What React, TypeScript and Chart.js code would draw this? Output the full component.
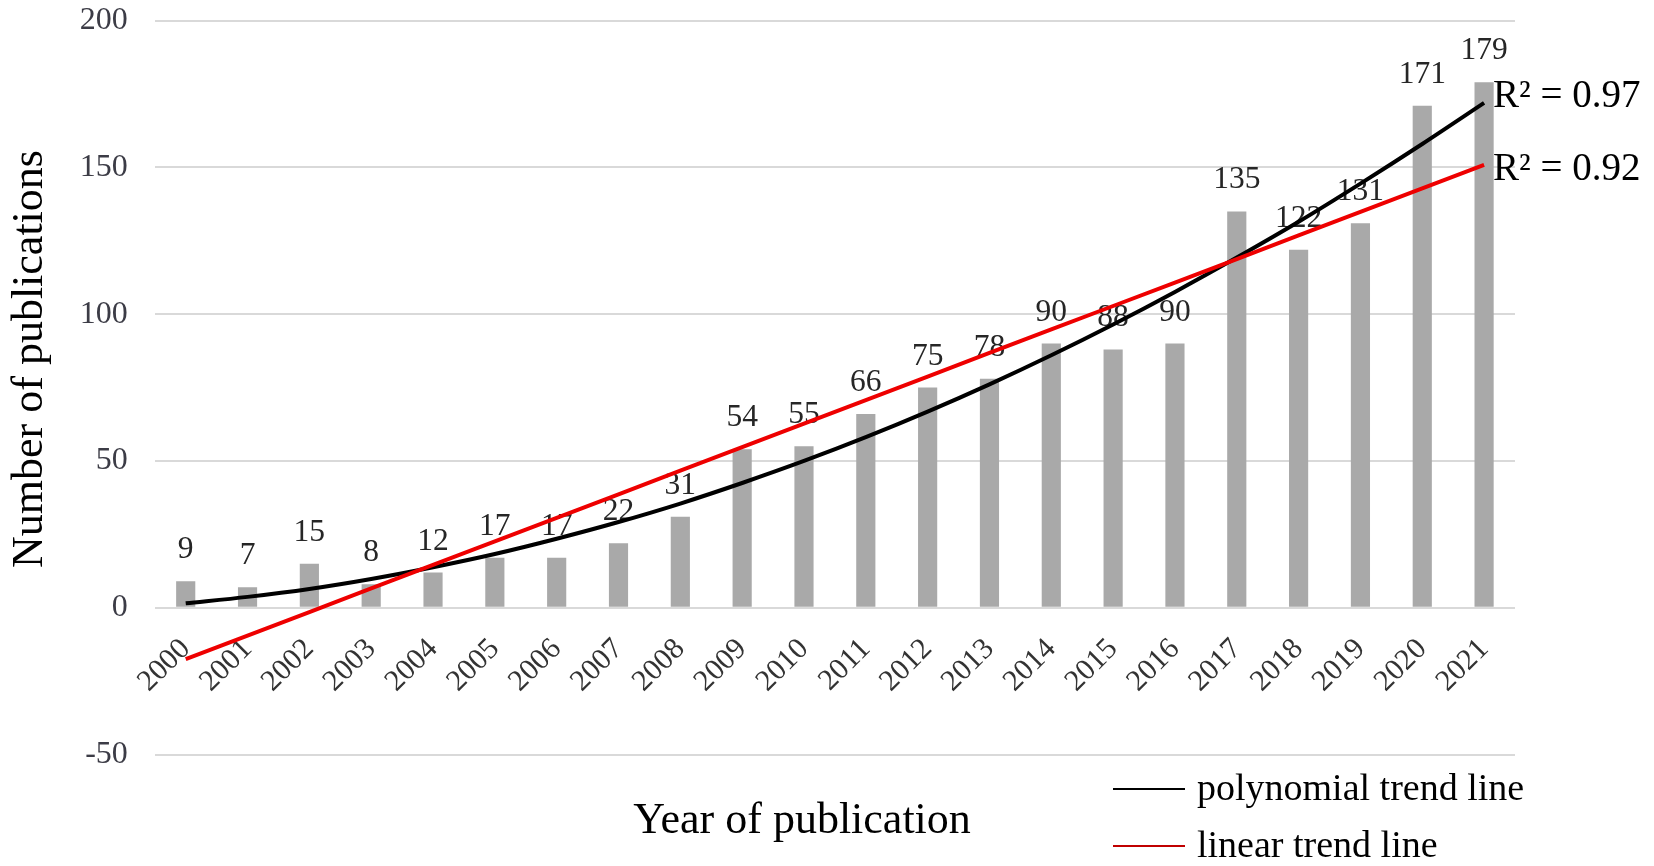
import { useEffect, useRef } from 'react';
import { Chart, registerables, Plugin } from 'chart.js';

Chart.register(...registerables);

// values
const years = [
  '2000', '2001', '2002', '2003', '2004', '2005', '2006', '2007', '2008', '2009', '2010',
  '2011', '2012', '2013', '2014', '2015', '2016', '2017', '2018', '2019', '2020', '2021',
];
const publications = [9, 7, 15, 8, 12, 17, 17, 22, 31, 54, 55, 66, 75, 78, 90, 88, 90, 135, 122, 131, 171, 179];
const polynomialTrend = [
  1.5, 3.7, 6.4, 9.8, 13.8, 18.3, 23.5, 29.2, 35.5, 42.5, 50,
  58.1, 66.8, 76.1, 86, 96.5, 107.6, 119.3, 131.5, 144.5, 158, 172,
];
const linearTrend = [
  -17.5, -9.5, -1.5, 6.6, 14.6, 22.6, 30.6, 38.6, 46.7, 54.7, 62.7,
  70.7, 78.7, 86.8, 94.8, 102.8, 110.8, 118.8, 126.9, 134.9, 142.9, 150.9,
];
const trendLabels = ['polynomial trend line', 'linear trend line'];
const rSquared = ['R² = 0.97', 'R² = 0.92'];
const yRange = [-50, 200];

const serif = '"Liberation Serif", "Times New Roman", serif';

// data labels, R² notes, axis titles and the legend
const annotations: Plugin<'bar'> = {
  id: 'annotations',
  afterDatasetDraw(chart, args) {
    if (args.index !== 0) return;
    const ctx = chart.ctx;
    ctx.save();
    ctx.font = `31.5px ${serif}`;
    ctx.fillStyle = '#262626';
    ctx.textAlign = 'center';
    ctx.textBaseline = 'alphabetic';
    args.meta.data.forEach((bar, i) => {
      ctx.fillText(String(publications[i]), bar.x, bar.y - 23);
    });
    ctx.restore();
  },
  afterDraw(chart) {
    const ctx = chart.ctx;
    ctx.save();
    ctx.fillStyle = '#000';

    // R² next to the end of each trend line
    ctx.font = `39px ${serif}`;
    ctx.textAlign = 'left';
    const offsets = [4, 15.5];
    [1, 2].forEach((dsIndex, k) => {
      const pts = chart.getDatasetMeta(dsIndex).data;
      const last = pts[pts.length - 1];
      ctx.fillText(rSquared[k], last.x + 9, last.y + offsets[k]);
    });

    // axis titles
    ctx.font = `44px ${serif}`;
    ctx.textAlign = 'center';
    ctx.fillText('Year of publication', 802, 833);
    ctx.save();
    ctx.translate(42, 359);
    ctx.rotate(-Math.PI / 2);
    ctx.fillText('Number of publications', 0, 0);
    ctx.restore();

    // legend
    const legendColors = ['#000000', '#c00000'];
    const legendY = [789, 846];
    ctx.font = `38px ${serif}`;
    ctx.textAlign = 'left';
    trendLabels.forEach((label, i) => {
      ctx.strokeStyle = legendColors[i];
      ctx.lineWidth = 2;
      ctx.beginPath();
      ctx.moveTo(1113, legendY[i]);
      ctx.lineTo(1185, legendY[i]);
      ctx.stroke();
      ctx.fillStyle = '#000';
      ctx.fillText(label, 1197, legendY[i] + 11);
    });
    ctx.restore();
  },
};

export default function App() {
  const canvasRef = useRef<HTMLCanvasElement>(null);

  useEffect(() => {
    document.body.style.margin = '0';
    if (!canvasRef.current) return;

    const chart = new Chart(canvasRef.current, {
      type: 'bar',
      data: {
        labels: years,
        datasets: [
          {
            type: 'bar',
            label: 'Number of publications',
            data: publications,
            backgroundColor: '#a9a9a9',
            categoryPercentage: 1,
            barPercentage: 0.31,
            order: 3,
          },
          {
            type: 'line',
            label: trendLabels[0],
            data: polynomialTrend,
            borderColor: '#000000',
            borderWidth: 4,
            pointRadius: 0,
            tension: 0.4,
            cubicInterpolationMode: 'monotone',
            order: 2,
          } as any,
          {
            type: 'line',
            label: trendLabels[1],
            data: linearTrend,
            borderColor: '#ee0000',
            borderWidth: 4,
            pointRadius: 0,
            order: 1,
          } as any,
        ],
      },
      options: {
        responsive: true,
        maintainAspectRatio: false,
        animation: false,
        layout: { padding: { top: 20.7, right: 139, bottom: 111.5, left: 0 } },
        plugins: {
          legend: { display: false },
          tooltip: { enabled: false },
        },
        scales: {
          x: {
            position: { y: 0 } as any,
            grid: { display: false },
            border: { display: false },
            ticks: {
              autoSkip: false,
              minRotation: 45,
              maxRotation: 45,
              padding: 18,
              labelOffset: 0,
              color: '#333333',
              font: { family: serif, size: 30, lineHeight: 1 },
            },
          },
          y: {
            min: yRange[0],
            max: yRange[1],
            afterFit: (scale) => {
              scale.width = 154.8;
              scale.paddingTop = 0;
              scale.paddingBottom = 0;
            },
            border: { display: false },
            grid: { color: '#d9d9d9', lineWidth: 2, drawTicks: false },
            ticks: {
              stepSize: 50,
              padding: 27,
              color: '#3c3c46',
              font: { family: serif, size: 32 },
            },
          },
        },
      },
      plugins: [annotations],
    });

    return () => chart.destroy();
  }, []);

  return (
    <div style={{ width: 1654, height: 866, position: 'relative' }}>
      <canvas ref={canvasRef} />
    </div>
  );
}
